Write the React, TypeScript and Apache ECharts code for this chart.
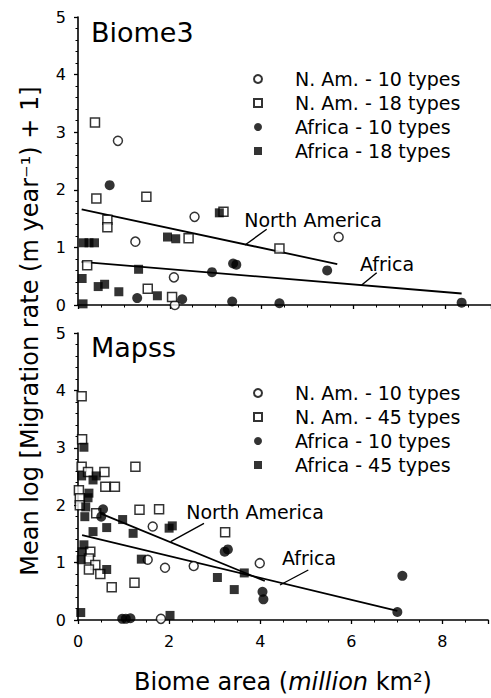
import React, { useEffect, useRef } from "react";
import * as echarts from "echarts";

// ---- Data ----
const xTicks = [0, 2, 4, 6, 8];
const yTicks = [0, 1, 2, 3, 4, 5];

const topNA10 = [[0.87, 2.85], [2.54, 1.53], [1.25, 1.1], [2.09, 0.48], [2.11, 0.0], [5.68, 1.18]];
const topNA18 = [[0.37, 3.17], [0.4, 1.85], [1.49, 1.88], [0.64, 1.48], [0.64, 1.35], [3.17, 1.62], [2.41, 1.16], [0.2, 0.69], [1.52, 0.28], [2.05, 0.14], [4.39, 0.98]];
const topAF10 = [[0.69, 2.08], [3.38, 0.72], [3.45, 0.7], [5.43, 0.6], [2.92, 0.57], [2.27, 0.1], [1.29, 0.12], [3.36, 0.06], [4.39, 0.03], [8.36, 0.04]];
const topAF18 = [[3.08, 1.6], [0.12, 1.08], [0.24, 1.08], [0.36, 1.08], [1.95, 1.18], [2.13, 1.15], [1.32, 0.62], [0.09, 0.46], [0.44, 0.32], [0.58, 0.36], [0.89, 0.23], [1.73, 0.16], [0.11, 0.02]];
const topLineNA = [[0.08, 1.66], [5.65, 0.71]];
const topLineAF = [[0.08, 0.75], [8.36, 0.2]];

const botNA10 = [[1.64, 1.63], [1.53, 1.05], [1.91, 0.91], [2.54, 0.94], [3.99, 0.99], [1.82, 0.02]];
const botNA45 = [[0.08, 3.9], [0.09, 3.15], [0.08, 2.67], [0.22, 2.58], [0.58, 2.58], [1.26, 2.67], [0.6, 2.32], [0.81, 2.32], [0.02, 2.26], [0.04, 2.12], [0.04, 2.0], [0.4, 1.86], [1.35, 1.92], [1.78, 1.93], [3.23, 1.53], [0.27, 1.19], [0.24, 1.07], [0.38, 0.96], [0.24, 0.88], [0.49, 0.8], [0.74, 0.57], [1.24, 0.65]];
const botAF10 = [[0.55, 1.93], [0.51, 1.8], [3.22, 1.19], [3.29, 1.23], [4.05, 0.49], [4.07, 0.36], [7.12, 0.77], [7.01, 0.14], [0.97, 0.02], [1.05, 0.02], [1.15, 0.03]];
const botAF45 = [[0.13, 3.01], [0.08, 2.51], [0.4, 2.51], [0.33, 2.44], [0.24, 2.21], [0.22, 2.13], [0.17, 1.97], [0.15, 1.8], [0.98, 1.75], [0.63, 1.61], [2.0, 1.6], [2.07, 1.64], [1.21, 1.51], [0.33, 1.54], [0.13, 1.31], [0.09, 1.19], [0.07, 1.05], [0.63, 0.88], [1.39, 1.06], [3.06, 0.74], [3.65, 0.82], [3.43, 0.53], [0.06, 0.13], [2.02, 0.08]];
const botLineNA = [[0.45, 1.87], [4.1, 0.68]];
const botLineAF = [[0.09, 1.48], [7.01, 0.16]];

const topLegend = ["N. Am. - 10 types", "N. Am. - 18 types", "Africa - 10 types", "Africa - 18 types"];
const botLegend = ["N. Am. - 10 types", "N. Am. - 45 types", "Africa - 10 types", "Africa - 45 types"];

const FONT = "DejaVu Sans";

function xAxisCfg(gridIndex: number, showLabels: boolean, name?: string) {
  return {
    type: "value",
    gridIndex,
    min: 0,
    max: 9,
    interval: 2,
    name: name || "",
    nameLocation: "middle",
    nameGap: 50,
    nameTextStyle: {
      fontFamily: FONT,
      fontSize: 24,
      color: "#000",
      rich: {
        a: { fontFamily: FONT, fontSize: 24, color: "#000" },
        b: { fontFamily: FONT, fontSize: 24, color: "#000", fontStyle: "italic" },
      },
    },
    axisLine: { show: true, onZero: false, lineStyle: { color: "#000", width: 1.6 } },
    axisTick: { show: true, length: 4, lineStyle: { color: "#000", width: 1.3 } },
    minorTick: { show: true, splitNumber: 4, length: 2.5, lineStyle: { color: "#000", width: 1 } },
    splitLine: { show: false },
    axisLabel: {
      show: showLabels,
      margin: 13,
      fontFamily: FONT,
      fontSize: 16,
      color: "#000",
      formatter: (v: number) => (xTicks.includes(v) ? String(v) : ""),
    },
  };
}

function yAxisCfg(gridIndex: number) {
  return {
    type: "value",
    gridIndex,
    min: 0,
    max: 5,
    interval: 1,
    axisLine: { show: true, onZero: false, lineStyle: { color: "#000", width: 1.6 } },
    axisTick: { show: true, length: 4, lineStyle: { color: "#000", width: 1.3 } },
    minorTick: { show: true, splitNumber: 5, length: 2.5, lineStyle: { color: "#000", width: 1 } },
    splitLine: { show: false },
    axisLabel: {
      margin: 12,
      fontFamily: FONT,
      fontSize: 16,
      color: "#000",
      formatter: (v: number) => (yTicks.includes(v) ? String(v) : ""),
    },
  };
}

const openCircle = { symbol: "circle", symbolSize: 9, itemStyle: { color: "#fff", borderColor: "#000", borderWidth: 1.5 } };
const openSquare = { symbol: "rect", symbolSize: 9, itemStyle: { color: "#fff", borderColor: "#000", borderWidth: 1.5 } };
const fillCircle = { symbol: "circle", symbolSize: 10, itemStyle: { color: "#000", borderColor: "#000", borderWidth: 0 } };
const fillSquare = { symbol: "rect", symbolSize: 9, itemStyle: { color: "#000", borderColor: "#000", borderWidth: 0 } };

function scatter(name: string, data: number[][], idx: number, style: any) {
  return { type: "scatter", name, data, xAxisIndex: idx, yAxisIndex: idx, z: 3, ...style };
}
function fitLine(data: number[][], idx: number) {
  return {
    type: "line",
    data,
    xAxisIndex: idx,
    yAxisIndex: idx,
    symbol: "none",
    z: 2,
    lineStyle: { color: "#000", width: 1.8 },
    silent: true,
  };
}

function legendCfg(names: string[], top: number) {
  return {
    data: names,
    orient: "vertical",
    left: 253,
    top,
    itemWidth: 8,
    itemHeight: 8,
    itemGap: 4,
    padding: 0,
    textStyle: { fontFamily: FONT, fontSize: 19, lineHeight: 20, color: "#000", padding: [0, 0, 0, 28] },
  };
}

function leader(x1: number, y1: number, x2: number, y2: number) {
  return { type: "line", shape: { x1, y1, x2, y2 }, style: { stroke: "#000", lineWidth: 1.4 }, z: 10 };
}
function note(text: string, x: number, y: number) {
  return {
    type: "text",
    x,
    y,
    z: 10,
    style: { text, fontFamily: FONT, fontSize: 19, fill: "#000", align: "center", verticalAlign: "middle" },
  };
}

export default function App() {
  const ref = useRef<HTMLDivElement>(null);
  useEffect(() => {
    if (!ref.current) return;
    const chart = echarts.init(ref.current, null, { renderer: "svg" });
    chart.setOption({
      animation: false,
      backgroundColor: "#fff",
      textStyle: { fontFamily: FONT },
      title: [
        { text: "Biome3", left: 91, top: 19, padding: 0, textStyle: { fontFamily: FONT, fontSize: 27, fontWeight: "normal", color: "#000" } },
        { text: "Mapss", left: 91, top: 334, padding: 0, textStyle: { fontFamily: FONT, fontSize: 27, fontWeight: "normal", color: "#000" } },
      ],
      legend: [legendCfg(topLegend, 69), legendCfg(botLegend, 383)],
      grid: [
        { left: 78, top: 17, width: 418, height: 288 },
        { left: 78, top: 333, width: 418, height: 287 },
      ],
      xAxis: [xAxisCfg(0, false), xAxisCfg(1, true, "{a|Biome area (}{b|million}{a| km²)}")],
      yAxis: [yAxisCfg(0), yAxisCfg(1)],
      series: [
        scatter("N. Am. - 10 types", topNA10, 0, openCircle),
        scatter("N. Am. - 18 types", topNA18, 0, openSquare),
        scatter("Africa - 10 types", topAF10, 0, fillCircle),
        scatter("Africa - 18 types", topAF18, 0, fillSquare),
        fitLine(topLineNA, 0),
        fitLine(topLineAF, 0),
        scatter("N. Am. - 10 types", botNA10, 1, openCircle),
        scatter("N. Am. - 45 types", botNA45, 1, openSquare),
        scatter("Africa - 10 types", botAF10, 1, fillCircle),
        scatter("Africa - 45 types", botAF45, 1, fillSquare),
        fitLine(botLineNA, 1),
        fitLine(botLineAF, 1),
      ],
      graphic: [
        {
          type: "text",
          x: 30,
          y: 331,
          rotation: Math.PI / 2,
          style: {
            text: "Mean log [Migration rate (m year⁻¹) + 1]",
            fontFamily: FONT,
            fontSize: 24,
            fill: "#000",
            align: "center",
            verticalAlign: "middle",
          },
        },
        note("North America", 313, 220),
        leader(245, 245, 266.7, 229.3),
        note("Africa", 387, 264),
        leader(361.7, 285, 376.7, 272.7),
        note("North America", 255, 512),
        leader(170.7, 541.7, 204, 523.3),
        note("Africa", 309, 558),
        leader(280, 585, 308.3, 570),
      ],
    });
    return () => chart.dispose();
  }, []);
  return <div ref={ref} style={{ position: "fixed", left: 0, top: 0, width: 491, height: 698, background: "#fff" }} />;
}
